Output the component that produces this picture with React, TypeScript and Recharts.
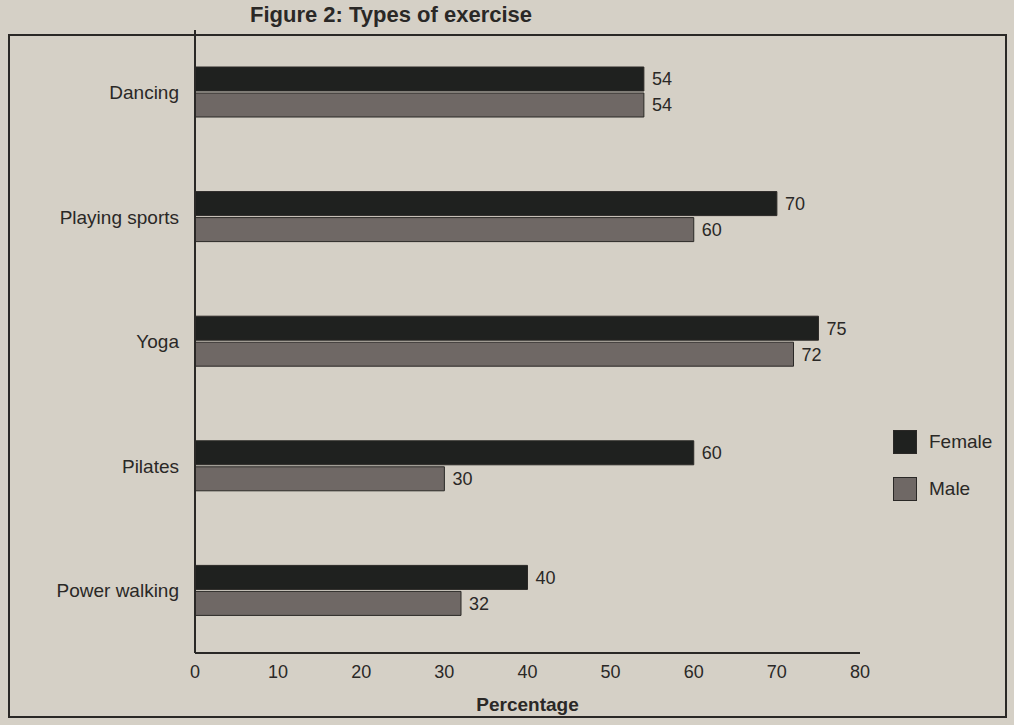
import { Bar, BarChart, LabelList, XAxis, YAxis } from 'recharts'

const categories = ['Dancing', 'Playing sports', 'Yoga', 'Pilates', 'Power walking']
const femaleValues = [54, 70, 75, 60, 40]
const maleValues = [54, 60, 72, 30, 32]
const xTicks = [0, 10, 20, 30, 40, 50, 60, 70, 80]

const data = categories.map((name, i) => ({
  name,
  Female: femaleValues[i],
  Male: maleValues[i],
}))

const FEMALE = '#1f211f'
const MALE = '#6f6865'
const INK = '#2a2826'
const FONT = '"Liberation Sans", Arial, sans-serif'

function LegendBox() {
  const items = [
    { label: 'Female', color: FEMALE },
    { label: 'Male', color: MALE },
  ]
  return (
    <div style={{ fontFamily: FONT }}>
      {items.map((it) => (
        <div
          key={it.label}
          style={{ display: 'flex', alignItems: 'center', height: 47 }}
        >
          <span
            style={{
              width: 22,
              height: 22,
              background: it.color,
              border: `1px solid ${INK}`,
              marginRight: 12,
            }}
          />
          <span style={{ fontSize: 19, color: INK }}>{it.label}</span>
        </div>
      ))}
    </div>
  )
}

export default function App() {
  return (
    <div
      style={{
        position: 'absolute',
        left: 0,
        top: 0,
        width: 1014,
        height: 725,
        overflow: 'hidden',
        background: '#d5d0c6',
        fontFamily: FONT,
      }}
    >
      <div
        style={{
          position: 'absolute',
          left: 250,
          top: 2,
          fontSize: 22,
          fontWeight: 'bold',
          color: INK,
        }}
      >
        Figure 2: Types of exercise
      </div>
      <div
        style={{
          position: 'absolute',
          left: 8,
          top: 34,
          width: 995,
          height: 680,
          border: `2px solid ${INK}`,
        }}
      />
      <div style={{ position: 'absolute', left: 0, top: 0 }}>
        <BarChart
          width={1014}
          height={725}
          data={data}
          layout="vertical"
          margin={{ top: 30, right: 154, bottom: 42, left: 10 }}
          barSize={24}
          barGap={2}
        >
          <XAxis
            type="number"
            domain={[0, 80]}
            ticks={xTicks}
            tickLine={false}
            axisLine={{ stroke: INK, strokeWidth: 2 }}
            tick={{ fill: INK, fontSize: 18, fontFamily: FONT }}
            tickMargin={6}
            label={{
              value: 'Percentage',
              position: 'insideBottom',
              offset: -28,
              fill: INK,
              fontSize: 19,
              fontWeight: 'bold',
              fontFamily: FONT,
            }}
          />
          <YAxis
            type="category"
            dataKey="name"
            width={185}
            tickLine={false}
            axisLine={{ stroke: INK, strokeWidth: 2 }}
            tick={{ fill: INK, fontSize: 19, fontFamily: FONT }}
            tickMargin={10}
          />
          <Bar
            dataKey="Female"
            fill={FEMALE}
            stroke={INK}
            isAnimationActive={false}
          >
            <LabelList
              dataKey="Female"
              position="right"
              offset={8}
              fill={INK}
              fontSize={18}
              fontFamily={FONT}
            />
          </Bar>
          <Bar
            dataKey="Male"
            fill={MALE}
            stroke={INK}
            isAnimationActive={false}
          >
            <LabelList
              dataKey="Male"
              position="right"
              offset={8}
              fill={INK}
              fontSize={18}
              fontFamily={FONT}
            />
          </Bar>
        </BarChart>
      </div>
      <div style={{ position: 'absolute', left: 893, top: 418 }}>
        <LegendBox />
      </div>
    </div>
  )
}
